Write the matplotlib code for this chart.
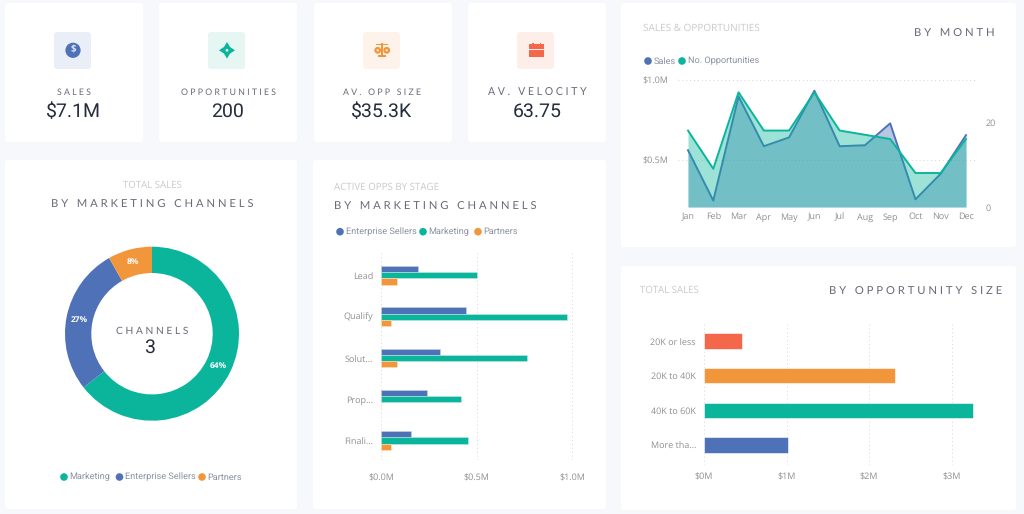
import matplotlib
matplotlib.use('Agg')
import matplotlib.pyplot as plt
from matplotlib.patches import FancyBboxPatch, Circle, Rectangle, Polygon

plt.rcParams['font.family'] = ['Open Sans', 'DejaVu Sans']
plt.rcParams['text.hinting'] = 'none'

W, H = 1024, 514

BLUE = '#4F71B8'
TEAL = '#0AB59C'
ORANGE = '#F2963C'
RED = '#F4674B'
BG = '#F6F8FC'
TICK = '#8F8F8F'
LEGEND = '#8A90A0'
FAINT = '#C9C9C9'
DARK = '#6A6A78'
VALUE = '#252C3C'

# data
kpi_labels = ['SALES', 'OPPORTUNITIES', 'AV. OPP SIZE', 'AV. VELOCITY']
kpi_values = ['$7.1M', '200', '$35.3K', '63.75']

months = ['Jan', 'Feb', 'Mar', 'Apr', 'May', 'Jun', 'Jul', 'Aug', 'Sep', 'Oct', 'Nov', 'Dec']
month_sales = [0.561, 0.246, 0.897, 0.586, 0.641, 0.933, 0.586, 0.592, 0.729, 0.254, 0.414, 0.655]
month_opps = [18, 9, 27, 18, 18, 27, 18, 17, 16, 8, 8, 16]

channels = ['Marketing', 'Enterprise Sellers', 'Partners']
channel_share = [64.4, 27.4, 8.2]

stages = ['Lead', 'Qualify', 'Solut...', 'Prop...', 'Finali...']
stage_enterprise = [0.192, 0.444, 0.308, 0.238, 0.156]
stage_marketing = [0.500, 0.976, 0.762, 0.418, 0.455]
stage_partners = [0.084, 0.051, 0.082, 0.0, 0.051]

size_labels = ['20K or less', '20K to 40K', '40K to 60K', 'More tha...']
size_sales = [0.457, 2.32, 3.26, 1.024]
size_colors = [RED, ORANGE, TEAL, BLUE]


def px_axes(x0, y0, x1, y1):
    # axes placed by pixel box, y counted from the top of the picture
    ax = fig.add_axes([x0 / W, 1 - y1 / H, (x1 - x0) / W, (y1 - y0) / H])
    ax.patch.set_alpha(0)
    for s in ax.spines.values():
        s.set_visible(False)
    return ax


def spaced(s, gap=' '):
    return gap.join(s).replace(gap + ' ' + gap, gap * 3)


def card(x0, y0, x1, y1):
    bg.add_patch(FancyBboxPatch((x0, y0), x1 - x0, y1 - y0, boxstyle='round,pad=0,rounding_size=3',
                                fc='white', ec='none'))


def tile(x0, color):
    bg.add_patch(FancyBboxPatch((x0, 32), 37, 37, boxstyle='round,pad=0,rounding_size=3',
                                fc=color, ec='none'))


def label(x, y, s, color=TICK, size=6.5, ha='left', **kw):
    bg.text(x, y, s, color=color, fontsize=size, ha=ha, va='center', **kw)


def heading(x, y, s, ha='left', size=8.1):
    bg.text(x, y, spaced(s), color=DARK, fontsize=size, ha=ha, va='center',
            family=['Lato', 'DejaVu Sans'])


def legend_row(y, items):
    for x, s, c in items:
        bg.add_patch(Circle((x, y), 3.8, fc=c, ec='none'))
        label(x + 5.5, y, s, color=LEGEND, size=6.6, family=['Roboto', 'DejaVu Sans'])


fig = plt.figure(figsize=(W / 100, H / 100), dpi=100, facecolor=BG)

bg = fig.add_axes([0, 0, 1, 1], zorder=-1)
bg.set_xlim(0, W)
bg.set_ylim(H, 0)
bg.axis('off')

# cards
for x0 in [5, 159, 314, 468]:
    card(x0, 3, x0 + 138, 142)
card(5, 160, 297, 509)
card(313, 160, 606, 509)
card(621, 3, 1016, 247)
card(621, 266, 1016, 510)

# KPI texts
kpi_x = [73.5, 228, 382, 537]
kpi_sizes = [6.3, 6.3, 6.3, 7.6]
for x, s, v, fs in zip(kpi_x, kpi_labels, kpi_values, kpi_sizes):
    bg.text(x, 92.5, spaced(s), color=DARK, fontsize=fs, ha='center', va='center',
            family=['Lato', 'DejaVu Sans'])
    bg.text(x, 112, v, color=VALUE, fontsize=14, ha='center', va='center', family=['Roboto', 'DejaVu Sans'])

# sales icon
tile(54, '#EAEFF7')
bg.add_patch(Circle((73, 50.3), 7.6, fc=BLUE, ec='none'))
bg.text(73, 50.3, '$', color='#DDE5F5', fontsize=7, ha='center', va='center', fontweight='bold')

# opportunities icon
tile(208, '#E5F6F3')
bg.add_patch(Polygon([(227, 42), (230, 47), (235, 50.3), (230, 53.6), (227, 58.6), (224, 53.6), (219, 50.3), (224, 47)],
                     fc=TEAL, ec='none'))
bg.add_patch(Circle((227, 50.3), 4.2, fc=TEAL, ec='none'))
bg.add_patch(Circle((227, 50.3), 1.4, fc='#E5F6F3', ec='none'))

# scale icon
tile(363, '#FEF3EA')
bg.add_patch(Rectangle((381.2, 43), 1.6, 13, fc=ORANGE, ec='none'))
bg.add_patch(Rectangle((376, 44), 12, 1.4, fc=ORANGE, ec='none'))
bg.add_patch(Rectangle((378, 55.3), 8, 1.6, fc=ORANGE, ec='none'))
for cx in [377.7, 386.7]:
    bg.add_patch(Circle((cx, 50.3), 3.4, fc=ORANGE, ec='none'))
    bg.add_patch(Circle((cx, 50.3), 1.1, fc='#FEF3EA', ec='none'))

# calendar icon
tile(517, '#FEEEEA')
bg.add_patch(Rectangle((529, 44), 15, 4.6, fc=RED, ec='none'))
bg.add_patch(Rectangle((529, 49.6), 15, 7.6, fc=RED, ec='none'))
for cx in [532, 539.5]:
    bg.add_patch(Rectangle((cx, 42.6), 1.6, 2, fc=RED, ec='none'))

# donut panel
label(152, 185.3, 'TOTAL SALES', color=FAINT, size=6.9, ha='center')
heading(152, 204.6, 'BY MARKETING CHANNELS', ha='center')
ax_donut = px_axes(152 - 88, 333.7 - 88, 152 + 88, 333.7 + 88)
wedges, _, pct = ax_donut.pie(channel_share, colors=[TEAL, BLUE, ORANGE], startangle=90, counterclock=False,
                              radius=87 / 88, wedgeprops={'width': 26.3 / 88}, autopct='%.0f%%', pctdistance=0.85,
                              textprops={'fontsize': 6, 'color': 'white', 'fontweight': 'bold'})
ax_donut.set_xlim(-1, 1)
ax_donut.set_ylim(-1, 1)
bg.text(152, 331.5, spaced('CHANNELS'), color=DARK, fontsize=7.4, ha='center', va='center',
        family=['Lato', 'DejaVu Sans'])
bg.text(150, 347.5, '3', color=VALUE, fontsize=14, ha='center', va='center', family=['Roboto', 'DejaVu Sans'])
legend_row(477, [(64, channels[0], TEAL), (119.5, channels[1], BLUE), (202, channels[2], ORANGE)])

# stage panel
label(334, 187.3, 'ACTIVE OPPS BY STAGE', color=FAINT, size=7)
heading(334, 207, 'BY MARKETING CHANNELS')
legend_row(231.7, [(340, 'Enterprise Sellers', BLUE), (423, 'Marketing', TEAL), (478, 'Partners', ORANGE)])
ax_stage = px_axes(381.3, 251, 600, 460)
ypos = list(range(len(stages)))
bh = 0.15
ax_stage.barh([y - bh for y in ypos], stage_enterprise, bh, color=BLUE, edgecolor='#C9D4EB', linewidth=0.4)
ax_stage.barh(ypos, stage_marketing, bh, color=TEAL, edgecolor='#BDEBE3', linewidth=0.4)
ax_stage.barh([y + bh for y in ypos], stage_partners, bh, color=ORANGE, edgecolor='#FBE2C9', linewidth=0.4)
ax_stage.set_xlim(0, 218.7 / 190.7)
ax_stage.set_ylim(4.47, -0.59)
ax_stage.set_xticks([0, 0.5, 1.0])
ax_stage.set_xticklabels(['$0.0M', '$0.5M', '$1.0M'])
ax_stage.set_yticks(ypos)
ax_stage.set_yticklabels(stages)
ax_stage.tick_params(length=0, labelsize=6.5, labelcolor=TICK)
ax_stage.tick_params(axis='y', pad=5.8)
ax_stage.tick_params(axis='x', pad=9.5)
ax_stage.grid(axis='x', color='#D5D5D5', linestyle=(0, (1, 3)), linewidth=0.7)
ax_stage.set_axisbelow(True)

# month panel
label(643, 28.3, 'SALES & OPPORTUNITIES', color=FAINT, size=7.2)
heading(995, 33.5, 'BY MONTH', ha='right')
legend_row(61, [(648, 'Sales', BLUE), (682, 'No. Opportunities', TEAL)])
ax_sales = px_axes(678, 80, 977, 207)
x = list(range(12))
ax_sales.fill_between(x, month_sales, 0.206, color=BLUE, alpha=0.4, linewidth=0)
ax_sales.plot(x, month_sales, color=BLUE, linewidth=1.4)
ax_sales.set_xlim(-0.396, 11.435)
ax_sales.set_ylim(0.206, 1.0)
ax_sales.set_xticks(x)
ax_sales.set_xticklabels(months)
ax_sales.set_yticks([0.5, 1.0])
ax_sales.set_yticklabels(['$0.5M', '$1.0M'])
ax_sales.tick_params(length=0, labelsize=6.5, labelcolor=TICK)
ax_sales.tick_params(axis='y', pad=7)
ax_sales.tick_params(axis='x', pad=4)
ax_sales.grid(axis='y', color='#D5D5D5', linestyle=(0, (1, 3)), linewidth=0.7)
ax_sales.set_axisbelow(True)

ax_opps = ax_sales.twinx()
ax_opps.patch.set_alpha(0)
for s in ax_opps.spines.values():
    s.set_visible(False)
ax_opps.fill_between(x, month_opps, 0, color=TEAL, alpha=0.4, linewidth=0)
ax_opps.plot(x, month_opps, color=TEAL, linewidth=1.4)
ax_opps.set_ylim(0, 29.9)
ax_opps.set_yticks([0, 20])
ax_opps.tick_params(length=0, labelsize=6.5, labelcolor=TICK, pad=6)

# size panel
label(640, 290.3, 'TOTAL SALES', color=FAINT, size=6.9)
heading(1002, 292, 'BY OPPORTUNITY SIZE', ha='right')
ax_size = px_axes(704, 322, 1000, 465)
ypos = list(range(len(size_labels)))
ax_size.barh(ypos, size_sales, 0.44, color=size_colors, edgecolor='white', linewidth=0.4)
ax_size.set_xlim(0, 296 / 82.5)
ax_size.set_ylim(3.58, -0.55)
ax_size.set_xticks([0, 1, 2, 3])
ax_size.set_xticklabels(['$0M', '$1M', '$2M', '$3M'])
ax_size.set_yticks(ypos)
ax_size.set_yticklabels(size_labels)
ax_size.tick_params(length=0, labelsize=6.5, labelcolor=TICK)
ax_size.tick_params(axis='y', pad=5.8)
ax_size.tick_params(axis='x', pad=5.5)
ax_size.grid(axis='x', color='#D5D5D5', linestyle=(0, (1, 3)), linewidth=0.7)
ax_size.set_axisbelow(True)

fig.savefig('out.png', dpi=100, facecolor=BG)
